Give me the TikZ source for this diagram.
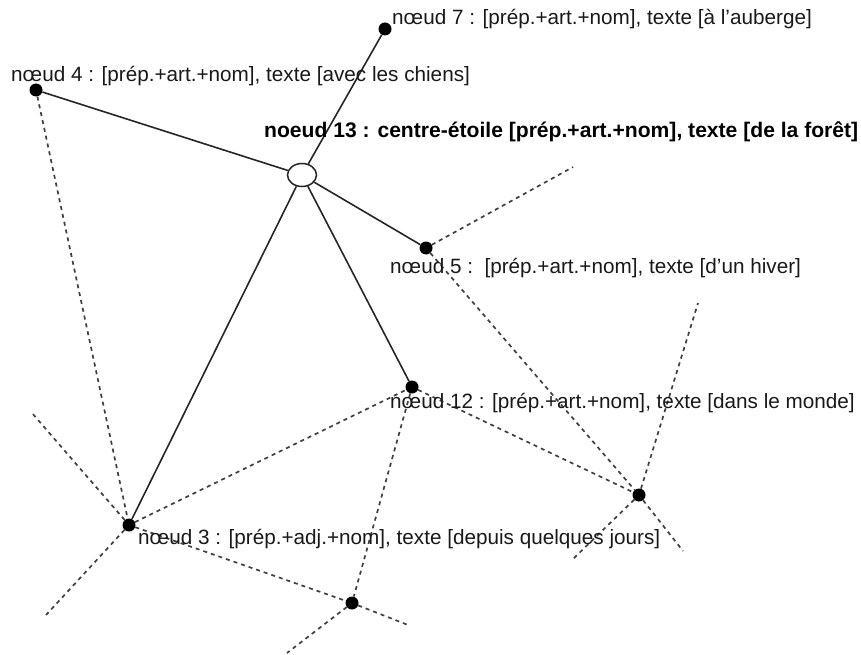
\documentclass[tikz,border=0pt]{standalone}
\usepackage{fontspec}
\setmainfont{Liberation Sans}
\usetikzlibrary{shapes.geometric}
\tikzset{
  dot/.style={circle,fill=black,draw=none,minimum size=13pt,inner sep=0pt},
  star/.style={ellipse,draw=black!85,fill=white,line width=1.5pt,minimum width=29pt,minimum height=23pt,inner sep=0pt},
  solidlink/.style={draw=black!85,line width=1.6pt},
  dashlink/.style={draw=black!75,line width=1.7pt,dash pattern=on 4pt off 4pt},
  lbl/.style={anchor=base west,inner sep=0pt,text=black!90,font=\fontsize{20.7}{24}\selectfont},
  blbl/.style={anchor=base west,inner sep=0pt,text=black,font=\fontsize{21.1}{24}\selectfont\bfseries}
}
\begin{document}
\begin{tikzpicture}[x=1pt,y=-1pt]
\useasboundingbox[fill=white] (0,0) rectangle (861,655);
% nodes
\node[star] (n13) at (302,175) {};
\node[dot] (n7) at (385,29) {};
\node[dot] (n4) at (36,90) {};
\node[dot] (n5) at (426,248) {};
\node[dot] (n12) at (412,387) {};
\node[dot] (n3) at (129,525) {};
\node[dot] (b1) at (352,603) {};
\node[dot] (b2) at (639,495) {};
% free ends
\coordinate (e5) at (573,167);
\coordinate (e2a) at (683,551);
\coordinate (e2b) at (698,303);
\coordinate (e2c) at (572,560);
\coordinate (e1a) at (408,625);
\coordinate (e1b) at (287,653);
\coordinate (e3a) at (32,413);
\coordinate (e3b) at (46,615);
% dashed links
\draw[dashlink] (n4) -- (n3);
\draw[dashlink] (n5) -- (e5);
\draw[dashlink] (n5) -- (b2);
\draw[dashlink] (b2) -- (e2a);
\draw[dashlink] (n12) -- (b2);
\draw[dashlink] (b2) -- (e2b);
\draw[dashlink] (b2) -- (e2c);
\draw[dashlink] (n3) -- (n12);
\draw[dashlink] (n12) -- (b1);
\draw[dashlink] (n3) -- (b1);
\draw[dashlink] (b1) -- (e1a);
\draw[dashlink] (b1) -- (e1b);
\draw[dashlink] (n3) -- (e3a);
\draw[dashlink] (n3) -- (e3b);
% solid links
\draw[solidlink] (n13) -- (n7);
\draw[solidlink] (n13) -- (n4);
\draw[solidlink] (n13) -- (n5);
\draw[solidlink] (n13) -- (n12);
\draw[solidlink] (n13) -- (n3);
% labels
\node[lbl] (l7) at (392,25) {nœud 7 : [prép.+art.+nom], texte [à l'auberge]};
\node[lbl] (l4) at (11,82) {nœud 4 : [prép.+art.+nom], texte [avec les chiens]};
\node[blbl] (l13) at (264,138) {noeud 13 : centre-étoile [prép.+art.+nom], texte [de la forêt]};
\node[lbl] (l5) at (390,273) {nœud 5 :\ \ [prép.+art.+nom], texte [d'un hiver]};
\node[lbl] (l12) at (390,408) {nœud 12 : [prép.+art.+nom], texte [dans le monde]};
\node[lbl] (l3) at (138,544) {nœud 3 : [prép.+adj.+nom], texte [depuis quelques jours]};
\end{tikzpicture}
\end{document}
